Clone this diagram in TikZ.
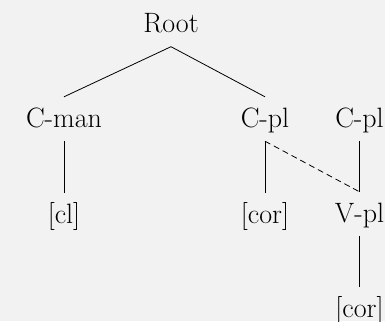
\documentclass[tikz,border=0pt]{standalone}
\definecolor{bgc}{HTML}{F2F2F2}
\begin{document}
\begin{tikzpicture}[x=1pt,y=-1pt,
  lbl/.style={anchor=base, font=\fontsize{28}{32}\selectfont, inner xsep=0pt, inner ysep=7pt, text height=23pt, text depth=7pt},
  edge/.style={line width=0.8pt, draw=black},
  dashedge/.style={edge, dash pattern=on 6pt off 4pt}]
\fill[bgc] (0,0) rectangle (385,321);
\useasboundingbox (0,0) rectangle (385,321);
\node[lbl] (root) at (171,32.5) {Root};
\node[lbl] (cman) at (64,127) {C-man};
\node[lbl] (cpla) at (265,127) {C-pl};
\node[lbl] (cplb) at (359.5,127) {C-pl};
\node[lbl] (cl) at (64,223) {[cl]};
\node[lbl] (cora) at (265,223) {[cor]};
\node[lbl] (vpl) at (359.5,222) {V-pl};
\node[lbl] (corb) at (359.5,317) {[cor]};
\draw[edge] (root.south) -- (cman.north);
\draw[edge] (root.south) -- (cpla.north);
\draw[edge] (cman.south) -- (cl.north);
\draw[edge] (cpla.south) -- (cora.north);
\draw[edge] (cplb.south) -- (vpl.north);
\draw[dashedge] (cpla.south) -- (vpl.north);
\draw[edge] (vpl.south) -- (corb.north);
\end{tikzpicture}
\end{document}
